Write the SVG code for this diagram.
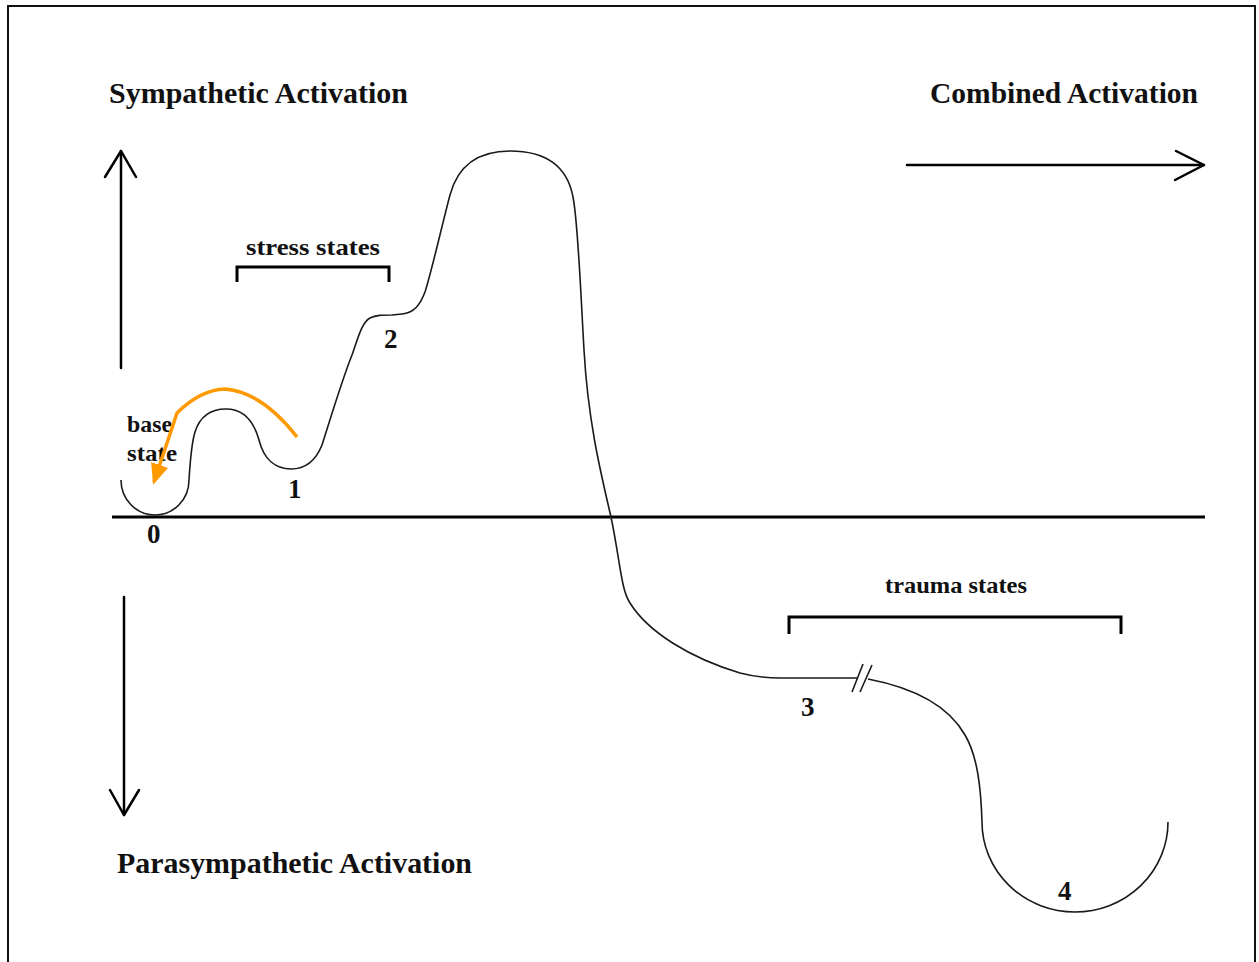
<svg xmlns="http://www.w3.org/2000/svg" width="1259" height="962" viewBox="0 0 1259 962">
  <style>
    .lbl { font-family: "Liberation Serif", "Times New Roman", serif; font-weight: bold; fill: #111; }
    .title { font-size: 29px; }
    .small { font-size: 23px; }
    .num { font-size: 27px; }
    .axis { stroke: #000; stroke-width: 3; fill: none; }
    .arrow { stroke: #000; stroke-width: 2.5; fill: none; stroke-linecap: round; stroke-linejoin: round; }
    .bracket { stroke: #000; stroke-width: 3; fill: none; }
    .curve { stroke: #1a1a1a; stroke-width: 1.6; fill: none; stroke-linejoin: round; }
    .hint { stroke: #ff9900; stroke-width: 3.5; fill: none; stroke-linejoin: round; }
  </style>
  <defs>
    <marker id="orangeHead" markerUnits="userSpaceOnUse" markerWidth="22" markerHeight="18" refX="18" refY="9" orient="auto">
      <path d="M0,0 L21,9 L0,18 z" fill="#ff9900"/>
    </marker>
  </defs>

  <rect x="0" y="0" width="1259" height="962" fill="#fff"/>
  <!-- outer frame -->
  <rect x="8" y="6" width="1247" height="980" fill="none" stroke="#111" stroke-width="2"/>

  <g id="connectors">
    <!-- baseline axis -->
    <line class="axis" x1="112" y1="517" x2="1205" y2="517"/>
    <!-- sympathetic (up) -->
    <g id="arrow-up">
      <line class="arrow" x1="121" y1="368" x2="121" y2="151"/>
      <polyline class="arrow" points="105,177 121,151 136,177"/>
    </g>
    <!-- parasympathetic (down) -->
    <g id="arrow-down">
      <line class="arrow" x1="124" y1="597" x2="124" y2="815"/>
      <polyline class="arrow" points="110,790 124,815 139,790"/>
    </g>
    <!-- combined (right) -->
    <g id="arrow-right">
      <line class="arrow" x1="907" y1="165" x2="1204" y2="165"/>
      <polyline class="arrow" points="1176,151 1204,165 1175,180"/>
    </g>
  </g>

  <g id="labels">
    <text class="lbl title" x="109" y="103" textLength="299" lengthAdjust="spacingAndGlyphs">Sympathetic Activation</text>
    <text class="lbl title" x="930" y="103" textLength="268" lengthAdjust="spacingAndGlyphs">Combined Activation</text>
    <text class="lbl title" x="117" y="873" textLength="355" lengthAdjust="spacingAndGlyphs">Parasympathetic Activation</text>
  </g>

  <g id="stress-states">
    <text class="lbl small" x="246" y="255" textLength="134" lengthAdjust="spacingAndGlyphs">stress states</text>
    <polyline class="bracket" points="237,282 237,267 389,267 389,282"/>
  </g>

  <g id="trauma-states">
    <text class="lbl small" x="885" y="593" textLength="142" lengthAdjust="spacingAndGlyphs">trauma states</text>
    <polyline class="bracket" points="789,634 789,617 1121,617 1121,634"/>
  </g>

  <!-- activation landscape -->
  <g id="landscape">
    <path class="curve" d="M121,480 A34,35 0 0 0 189,480 C190,465 191,445 195,432 C200,416 210,409 226,409 C245,409 254,422 259,440 C264,460 276,469 291,469 C306,469 316,460 322,445 C330,420 342,380 352,355 C358,338 362,322 370,318 C376,315 382,315 392,315 L402,314 C414,313 420,305 425,292 C432,270 442,225 450,195 C458,165 478,151 510,151 C545,151 567,165 573,197 C578,222 580,280 584,350 C588,420 600,470 611,517 C620,560 621,590 630,603 C648,632 690,658 740,673 C755,677 765,678 780,678 L857,678"/>
    <path class="curve" d="M868,679 C915,688 948,705 965,735 C978,757 981,790 982,822 A93,90 0 0 0 1168,822"/>
    <!-- break marks -->
    <line class="curve" x1="852" y1="692" x2="863" y2="664"/>
    <line class="curve" x1="860" y1="692" x2="872" y2="665"/>
  </g>

  <g id="state-0">
    <text class="lbl small" x="127" y="432" textLength="45" lengthAdjust="spacingAndGlyphs">base</text>
    <text class="lbl small" x="127" y="461" textLength="50" lengthAdjust="spacingAndGlyphs">state</text>
    <text class="lbl num" x="147" y="543">0</text>
  </g>
  <g id="state-1"><text class="lbl num" x="288" y="498">1</text></g>
  <g id="state-2"><text class="lbl num" x="384" y="348">2</text></g>
  <g id="state-3"><text class="lbl num" x="801" y="716">3</text></g>
  <g id="state-4"><text class="lbl num" x="1058" y="900">4</text></g>

  <!-- return path to the base state -->
  <g id="return-arrow">
    <path class="hint" d="M297,437 Q262,392 225,389 Q200,390 177,413 L154,482" marker-end="url(#orangeHead)"/>
  </g>
</svg>
